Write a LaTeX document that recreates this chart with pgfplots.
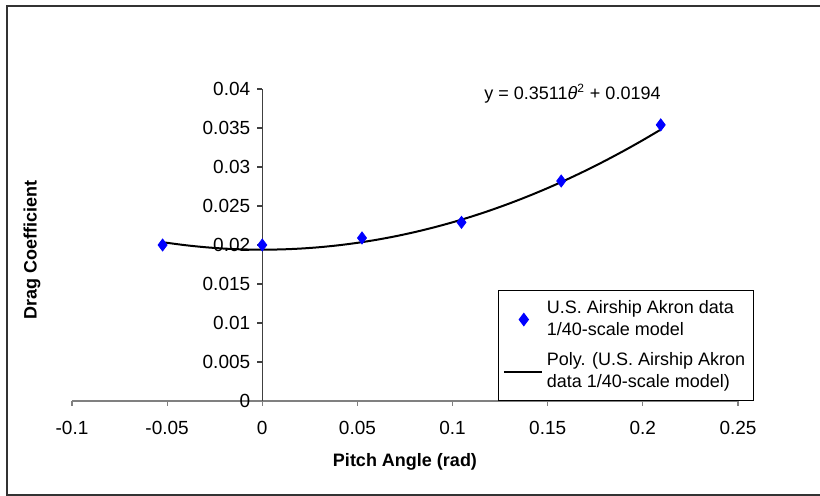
\documentclass[border=0pt]{standalone}
\usepackage{pgfplots}
\pgfplotsset{compat=1.18}
\usepackage{fontspec}
\setmainfont{Liberation Sans}
\pgfplotsset{
  polyleg/.style={legend image code/.code={\draw[##1] (-4pt,0pt) -- (15pt,0pt);}},
  dataleg/.style={legend image code/.code={\draw[##1] plot coordinates {(6pt,0pt)};}},
}
\begin{document}
\begin{tikzpicture}[font=\fontsize{9}{11}\selectfont]
\useasboundingbox (-36pt,-47.5pt) rectangle (374pt,200.5pt);
\draw[line width=1pt, color=black!80] (375pt,197.25pt) -- (-32.5pt,197.25pt) -- (-32.5pt,-47pt) -- (375pt,-47pt);
\begin{axis}[
  scale only axis, width=333pt, height=156pt,
  xmin=-0.1, xmax=0.25, ymin=0, ymax=0.04,
  axis x line=bottom, axis y line=middle,
  x axis line style={-, black!50, line width=0.8pt},
  y axis line style={-, black!75, line width=0.6pt},
  hide obscured x ticks=false, hide obscured y ticks=false,
  scaled x ticks=false, scaled y ticks=false,
  tick align=outside, major tick length=2.5pt,
  xtick={-0.1,-0.05,0,0.05,0.1,0.15,0.2,0.25},
  xticklabels={-0.1,-0.05,0,0.05,0.1,0.15,0.2,0.25},
  ytick={0,0.005,0.01,0.015,0.02,0.025,0.03,0.035,0.04},
  yticklabels={0,0.005,0.01,0.015,0.02,0.025,0.03,0.035,0.04},
  xtick style={black!50, line width=0.6pt},
  ytick style={black!75, line width=0.6pt},
  xticklabel style={yshift=-4pt, font=\fontsize{9.5}{11}\selectfont},
  yticklabel style={font=\fontsize{9.5}{11}\selectfont},
  xlabel={\textbf{Pitch Angle (rad)}},
  ylabel={\textbf{Drag Coefficient}},
  every axis x label/.style={at={(axis description cs:0.5,0)}, anchor=center, yshift=-30.5pt},
  every axis y label/.style={at={(axis description cs:0,0.484)}, rotate=90, anchor=center, yshift=20pt},
  reverse legend,
  legend style={at={(rel axis cs:0.64,0.356)}, anchor=north west, draw=black, line width=0.6pt, fill=white,
    font=\fontsize{9}{11}\selectfont, nodes={align=left}, row sep=3pt, inner xsep=2pt, inner ysep=3pt},
  legend cell align=left,
  clip=false,
]
\addplot[black, line width=1pt, smooth, polyleg] coordinates {
(-0.0524,0.020364) (-0.05,0.020278) (-0.04,0.019962) (-0.03,0.019716) (-0.02,0.019540)
(-0.01,0.019435) (0,0.0194) (0.01,0.019435) (0.02,0.019540) (0.03,0.019716)
(0.04,0.019962) (0.05,0.020278) (0.06,0.020664) (0.07,0.021120) (0.08,0.021647)
(0.09,0.022244) (0.10,0.022911) (0.11,0.023648) (0.12,0.024456) (0.13,0.025334)
(0.14,0.026282) (0.15,0.027300) (0.16,0.028388) (0.17,0.029547) (0.18,0.030776)
(0.19,0.032075) (0.20,0.033444) (0.2094,0.034795)
};
\addlegendentry{Poly. (U.S. Airship Akron\\data 1/40-scale model)}
\addplot[only marks, mark=diamond*, mark size=3pt, color=blue, dataleg] coordinates {
(-0.0524,0.0200) (0,0.0200) (0.0524,0.0209) (0.1047,0.0229) (0.1571,0.0282) (0.2094,0.0354)
};
\addlegendentry{U.S. Airship Akron data\\1/40-scale model}
\node[anchor=center] at (axis cs:0.163,0.0394) {y = 0.3511\textit{θ}\textsuperscript{2} + 0.0194};
\end{axis}
\end{tikzpicture}
\end{document}
